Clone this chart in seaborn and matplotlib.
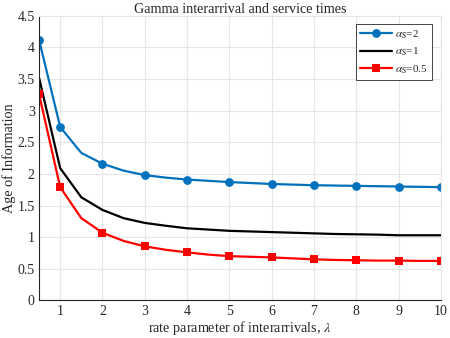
import numpy as np
import pandas as pd
import seaborn as sns
import matplotlib.pyplot as plt

lam = [0.5, 1, 1.5, 2, 2.5, 3, 3.5, 4, 4.5, 5, 5.5, 6, 6.5, 7, 7.5, 8, 8.5, 9, 9.5, 10]
aoi_a2 = [4.12, 2.74, 2.33, 2.16, 2.05, 1.98, 1.94, 1.91, 1.89, 1.87, 1.855, 1.84, 1.83, 1.82, 1.815, 1.81, 1.805, 1.80, 1.795, 1.79]
aoi_a1 = [3.52, 2.09, 1.63, 1.43, 1.30, 1.225, 1.18, 1.14, 1.12, 1.10, 1.09, 1.08, 1.07, 1.06, 1.05, 1.045, 1.04, 1.03, 1.03, 1.03]
aoi_a05 = [3.26, 1.79, 1.30, 1.07, 0.94, 0.855, 0.80, 0.76, 0.725, 0.70, 0.69, 0.68, 0.665, 0.65, 0.64, 0.635, 0.63, 0.63, 0.625, 0.625]
labels = [r'$\alpha_{\rm S}$=2', r'$\alpha_{\rm S}$=1', r'$\alpha_{\rm S}$=0.5']

sns.set_style("white")
plt.rcParams['font.family'] = ['Liberation Serif', 'DejaVu Serif']
plt.rcParams['mathtext.fontset'] = 'stix'

fig = plt.figure(figsize=(4.5, 3.38), dpi=100)
ax = fig.add_axes([0.0867, 0.111, 0.893, 0.843])

# markers only at 0.5 and at whole numbers
marks = [0, 1, 3, 5, 7, 9, 11, 13, 15, 17, 19]
sns.lineplot(x=lam, y=aoi_a2, ax=ax, color='#0072BD', lw=1.6, marker='o', markersize=6.3,
             markeredgewidth=0, markevery=marks, label=labels[0])
sns.lineplot(x=lam, y=aoi_a1, ax=ax, color='black', lw=1.6, label=labels[1])
sns.lineplot(x=lam, y=aoi_a05, ax=ax, color='#FF0000', lw=1.6, marker='s', markersize=5.6,
             markeredgewidth=0, markevery=marks, label=labels[2])

ax.set_xlim(0.5, 10)
ax.set_ylim(0, 4.5)
ax.set_xticks(np.arange(1, 11, 1))
ax.set_yticks(np.arange(0, 4.51, 0.5))
ax.set_yticklabels(['0', '0.5', '1', '1.5', '2', '2.5', '3', '3.5', '4', '4.5'])
ax.grid(True, color='#e6e6e6', lw=0.8)
ax.tick_params(direction='in', length=3, labelsize=10, colors='#262626', pad=3)
for s in ['left', 'bottom']:
    ax.spines[s].set_color('#262626')
    ax.spines[s].set_linewidth(0.8)
for s in ['top', 'right']:
    ax.spines[s].set_color('#e6e6e6')
    ax.spines[s].set_linewidth(0.8)

ax.set_title('Gamma interarrival and service times', fontsize=10.2, pad=1.5)
ax.set_xlabel(r'rate parameter of interarrivals, $\lambda$', fontsize=10.2, color='#262626', labelpad=1)
ax.set_ylabel('Age of Information', fontsize=10.2, color='#262626', labelpad=1)

leg = ax.legend(loc='upper right', fontsize=8, frameon=True, fancybox=False,
                edgecolor='#262626', framealpha=1, borderaxespad=0.8, handlelength=2.9,
                handletextpad=0.3, labelspacing=0.45, borderpad=0.35)
leg.get_frame().set_linewidth(0.6)

fig.savefig('out.png', dpi=100)
